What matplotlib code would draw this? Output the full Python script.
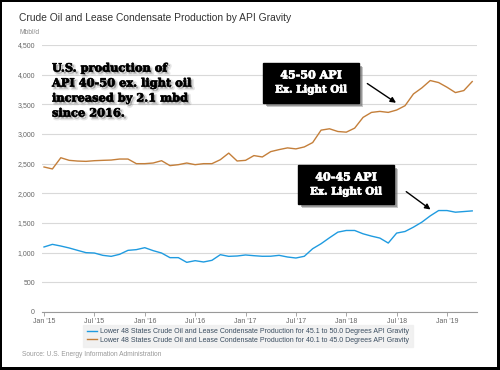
import matplotlib
matplotlib.use("Agg")
import matplotlib.pyplot as plt
import matplotlib.patheffects as pe
from matplotlib.patches import Rectangle, FancyBboxPatch
from matplotlib.lines import Line2D

# ---------------- data ----------------
months = [f"{m} {y}" for y in range(2015, 2020) for m in
          ["Jan", "Feb", "Mar", "Apr", "May", "Jun", "Jul", "Aug", "Sep", "Oct", "Nov", "Dec"]][:52]

api_45_50 = [1096, 1140, 1112, 1079, 1039, 1000, 994, 955, 938, 972, 1039, 1051,
             1084, 1034, 994, 916, 916, 837, 865, 843, 871, 966, 938, 944,
             961, 949, 939, 940, 955, 927, 910, 939, 1067, 1151, 1251, 1346,
             1374, 1374, 1318, 1279, 1246, 1162, 1330, 1357, 1430, 1514, 1620, 1710,
             1710, 1682, 1693, 1704]

api_40_45 = [2444, 2411, 2600, 2556, 2544, 2539, 2550, 2556, 2561, 2578, 2578, 2500,
             2500, 2511, 2550, 2467, 2483, 2511, 2483, 2500, 2500, 2567, 2678, 2545,
             2556, 2636, 2613, 2703, 2737, 2766, 2749, 2782, 2856, 3065, 3088, 3042,
             3031, 3099, 3280, 3364, 3381, 3364, 3404, 3477, 3675, 3777, 3901, 3867,
             3788, 3698, 3732, 3884]

xtick_labels = ["Jan '15", "Jul '15", "Jan '16", "Jul '16", "Jan '17",
                "Jul '17", "Jan '18", "Jul '18", "Jan '19"]
ytick_values = [0, 500, 1000, 1500, 2000, 2500, 3000, 3500, 4000, 4500]

label_blue = "Lower 48 States Crude Oil and Lease Condensate Production for 45.1 to 50.0 Degrees API Gravity"
label_orange = "Lower 48 States Crude Oil and Lease Condensate Production for 40.1 to 45.0 Degrees API Gravity"

BLUE = "#1f9be0"
ORANGE = "#c47f3a"
FONT = ["Liberation Sans", "DejaVu Sans"]
SLAB = ["DejaVu Serif"]

W, H = 500, 370
fig = plt.figure(figsize=(W / 100, H / 100), dpi=100)
fig.patch.set_facecolor("white")

def fx(px):
    return px / W

def fy(py):
    return 1 - py / H

ax = fig.add_axes([fx(42), fy(312), fx(477) - fx(42), fy(45) - fy(312)])
x = list(range(len(months)))
ax.plot(x, api_45_50, color=BLUE, lw=1.0, label=label_blue, zorder=3)
ax.plot(x, api_40_45, color=ORANGE, lw=1.0, label=label_orange, zorder=3)

ax.set_xlim(-0.24, 51.57)
ax.set_ylim(0, 4500)
ax.set_yticks(ytick_values)
ax.set_yticklabels([f"{v:,}" for v in ytick_values], fontsize=5, color="#666666", family=FONT)
ax.set_xticks(list(range(0, 49, 6)))
ax.set_xticklabels(xtick_labels, fontsize=5, color="#666666", family=FONT)
ax.tick_params(axis="y", length=0, pad=5)
ax.tick_params(axis="x", length=3, width=0.6, color="#999999", pad=1.5)
ax.grid(axis="y", color="#d9d9d9", lw=0.8)
ax.set_axisbelow(True)
for s in ["top", "right", "left"]:
    ax.spines[s].set_visible(False)
ax.spines["bottom"].set_color("#999999")
ax.spines["bottom"].set_linewidth(0.8)

# title etc.
fig.text(fx(19), fy(18), "Crude Oil and Lease Condensate Production by API Gravity",
         fontsize=7.4, color="#333333", family=FONT, va="center", ha="left")
fig.text(fx(20), fy(33), "Mbbl/d", fontsize=4.8, color="#888888", family=FONT, va="center")
fig.text(fx(22), fy(355), "Source: U.S. Energy Information Administration",
         fontsize=4.8, color="#999999", family=FONT, va="center")

# legend
leg = fig.legend(handles=[Line2D([], [], color=BLUE, lw=1.0), Line2D([], [], color=ORANGE, lw=1.0)],
                 labels=[label_blue, label_orange], loc="center",
                 bbox_to_anchor=(fx(248), fy(336)), frameon=True,
                 handlelength=1.5, handletextpad=0.4, labelspacing=0.25, borderpad=0.5,
                 prop={"family": FONT, "size": 5.0}, labelcolor="#3a4d60")
leg.get_frame().set_facecolor("#eeeeee")
leg.get_frame().set_edgecolor("#eeeeee")
leg.get_frame().set_boxstyle("square", pad=0)

# big annotation text (heavy slab with soft drop shadow)
shadow = [pe.Stroke(offset=(1.6, -1.6), linewidth=2.2, foreground="#000000", alpha=0.10),
          pe.SimplePatchShadow(offset=(1.3, -1.3), shadow_rgbFace="#444444", alpha=0.35),
          pe.Stroke(linewidth=0.45, foreground="black"),
          pe.Normal()]
big_lines = ["U.S. production of", "API 40-50 ex. light oil", "increased by 2.1 mbd", "since 2016."]
for i, line in enumerate(big_lines):
    fig.text(fx(52), fy(68 + 15 * i), line, fontsize=8.2, fontweight="bold", family=SLAB,
             color="black", va="center", ha="left", path_effects=shadow)

# boxed callouts
def callout(x0, y0, x1, y1, lines, arrow_from, arrow_to_data):
    box = FancyBboxPatch((fx(x0), fy(y1)), fx(x1) - fx(x0), fy(y0) - fy(y1),
                         boxstyle="square,pad=0", transform=fig.transFigure,
                         facecolor="black", edgecolor="black", zorder=5,
                         path_effects=[pe.SimplePatchShadow(offset=(3.0, -3.0), shadow_rgbFace="#888888", alpha=0.45),
                                       pe.SimplePatchShadow(offset=(1.8, -1.8), shadow_rgbFace="#666666", alpha=0.5),
                                       pe.Normal()])
    fig.patches.append(box)
    cx = (x0 + x1) / 2
    for j, (txt, py) in enumerate(lines):
        fig.text(fx(cx), fy(py), txt, fontsize=8.0 if j == 0 else 7.4, fontweight="bold",
                 family=SLAB, color="white", ha="center", va="center", zorder=6,
                 path_effects=[pe.Stroke(linewidth=0.5, foreground="white"), pe.Normal()])
    ax.annotate("", xy=arrow_to_data, xycoords="data",
                xytext=(fx(arrow_from[0]), fy(arrow_from[1])), textcoords="figure fraction",
                arrowprops=dict(arrowstyle="-|>", color="black", lw=1.0, mutation_scale=8),
                zorder=7, annotation_clip=False)

callout(263, 63, 359, 103, [("45-50 API", 75), ("Ex. Light Oil", 90)], (365, 82), (42.2, 3500))
callout(298, 165, 394, 204, [("40-45 API", 177), ("Ex. Light Oil", 192)], (404, 190), (46.3, 1700))

# black frame
for (x0, y0, w, h) in [(0, 0, 2, H), (0, 0, W, 2), (W - 3, 0, 3, H), (0, H - 3, W, 3)]:
    fig.patches.append(Rectangle((fx(x0), fy(y0 + h)), fx(w), h / H, transform=fig.transFigure,
                                 facecolor="black", edgecolor="none", zorder=10))

fig.savefig("out.png", dpi=100)
